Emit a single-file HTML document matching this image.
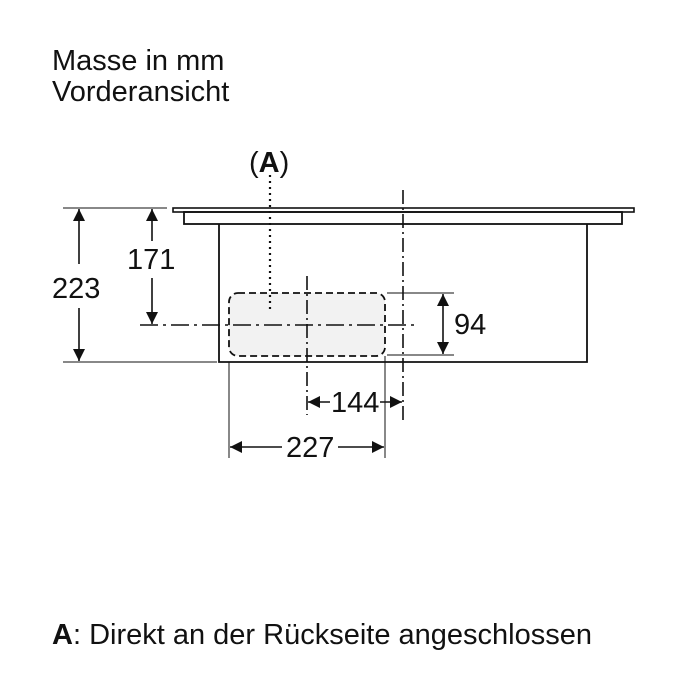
<!DOCTYPE html>
<html><head><meta charset="utf-8"><style>
html,body{margin:0;padding:0;background:#fff;width:700px;height:700px;overflow:hidden}
svg text{font-family:"Liberation Sans",Arial,sans-serif;fill:#111}
</style></head><body>
<svg width="700" height="700" viewBox="0 0 700 700" xmlns="http://www.w3.org/2000/svg">
<defs>
<marker id="ar" viewBox="0 0 10 10" refX="10" refY="5" markerWidth="15" markerHeight="12" markerUnits="userSpaceOnUse" orient="auto-start-reverse"><path d="M0,0 L10,5 L0,10 z" fill="#111"/></marker>
</defs>
<text x="52" y="70" font-size="29">Masse in mm</text>
<text x="52" y="101" font-size="29">Vorderansicht</text>
<text x="249" y="172" font-size="29">(<tspan font-weight="bold">A</tspan>)</text>
<g stroke="#111" fill="none" stroke-width="1.8">
<rect x="173" y="208" width="461" height="4" stroke-width="1.6"/>
<rect x="184" y="212" width="438" height="12"/>
<path d="M219,224 V362 H587 V224"/>
</g>
<rect x="229" y="293" width="156" height="63" rx="9" fill="#f2f2f2" stroke="#111" stroke-width="1.8" stroke-dasharray="7,4"/>
<g stroke="#111" stroke-width="1.6" fill="none">
<line x1="270" y1="175" x2="270" y2="313" stroke-dasharray="2,4" stroke-width="2.2"/>
<line x1="307" y1="276" x2="307" y2="415" stroke-dasharray="14,4,2,4"/>
<line x1="403" y1="190" x2="403" y2="420" stroke-dasharray="14,4,2,4"/>
<line x1="140" y1="325" x2="418" y2="325" stroke-dasharray="18,5,3,5"/>
<line x1="63" y1="208" x2="167" y2="208" stroke-width="1"/>
<line x1="63" y1="362" x2="217" y2="362" stroke-width="1"/>
<line x1="79" y1="209" x2="79" y2="264" marker-start="url(#ar)"/>
<line x1="79" y1="308" x2="79" y2="361" marker-end="url(#ar)"/>
<line x1="152" y1="209" x2="152" y2="241" marker-start="url(#ar)"/>
<line x1="152" y1="278" x2="152" y2="324" marker-end="url(#ar)"/>
<line x1="387" y1="293" x2="454" y2="293" stroke-width="1"/>
<line x1="387" y1="355" x2="454" y2="355" stroke-width="1"/>
<line x1="443" y1="294" x2="443" y2="354" marker-start="url(#ar)" marker-end="url(#ar)"/>
<line x1="229" y1="362" x2="229" y2="458" stroke-width="1"/>
<line x1="385" y1="356" x2="385" y2="458" stroke-width="1"/>
<line x1="308" y1="402" x2="330" y2="402" marker-start="url(#ar)"/>
<line x1="380" y1="402" x2="402" y2="402" marker-end="url(#ar)"/>
<line x1="230" y1="447" x2="282" y2="447" marker-start="url(#ar)"/>
<line x1="338" y1="447" x2="384" y2="447" marker-end="url(#ar)"/>
</g>
<text x="52" y="298" font-size="29">223</text>
<text x="127" y="269" font-size="29">171</text>
<text x="454" y="334" font-size="29">94</text>
<text x="331" y="412" font-size="29">144</text>
<text x="286" y="457" font-size="29">227</text>
<text x="52" y="644" font-size="29"><tspan font-weight="bold">A</tspan>: Direkt an der Rückseite angeschlossen</text>
</svg>
</body></html>
